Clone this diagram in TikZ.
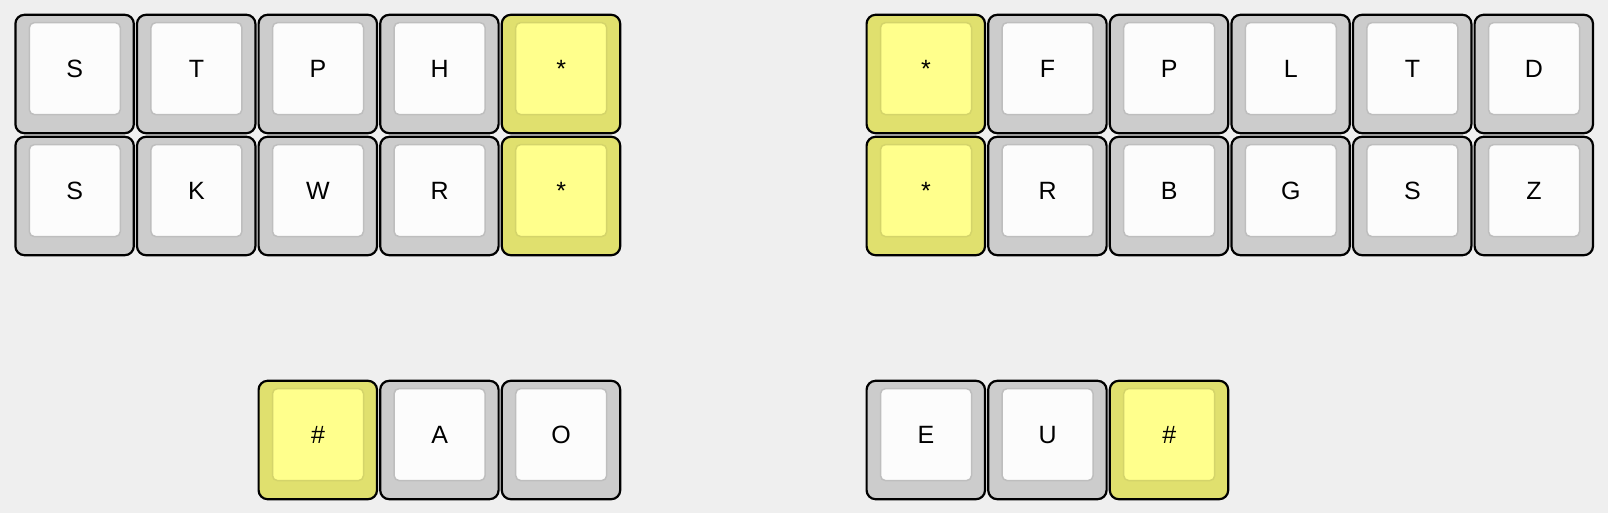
\documentclass[tikz,border=0pt]{standalone}
\usepackage{fontspec}
\setmainfont{Liberation Sans}
\definecolor{backdrop}{HTML}{EFEFEF}
\definecolor{capgray}{HTML}{CCCCCC}
\definecolor{facegray}{HTML}{FCFCFC}
\definecolor{rimgray}{HTML}{BEBEBE}
\definecolor{capyellow}{HTML}{E0E06E}
\definecolor{faceyellow}{HTML}{FFFF8C}
\definecolor{rimyellow}{HTML}{D4D46A}

\begin{document}
\begin{tikzpicture}[x=1pt,y=1pt,
  keycap/.style={draw=black,line width=1.1pt,rounded corners=4.5pt,
    minimum width=59.2pt,minimum height=59.2pt,inner sep=0pt},
  keyface/.style={line width=0.75pt,rounded corners=2.5pt,
    minimum width=45.5pt,minimum height=46pt,inner sep=0pt,
    font=\fontsize{12.5}{15}\selectfont}]
\fill [backdrop] (0,0) rectangle (804,-256.5);
\useasboundingbox (0,0) rectangle (804,-256.5);
% column / row / legend / colour
\foreach \c/\r/\t/\k in {0/0/S/gray,1/0/T/gray,2/0/P/gray,3/0/H/gray,4/0/*/yellow,
    7/0/*/yellow,8/0/F/gray,9/0/P/gray,10/0/L/gray,11/0/T/gray,12/0/D/gray,
    0/1/S/gray,1/1/K/gray,2/1/W/gray,3/1/R/gray,4/1/*/yellow,
    7/1/*/yellow,8/1/R/gray,9/1/B/gray,10/1/G/gray,11/1/S/gray,12/1/Z/gray,
    2/3/\#/yellow,3/3/A/gray,4/3/O/gray,
    7/3/E/gray,8/3/U/gray,9/3/\#/yellow}{
  \node [keycap,fill=cap\k] (k\c-\r) at (37.3+60.8*\c,-37.0-61.0*\r) {};
  \node [keyface,fill=face\k,draw=rim\k] (f\c-\r) at ([xshift=0.1pt,yshift=2.7pt]k\c-\r.center) {\t};
}
\end{tikzpicture}
\end{document}
